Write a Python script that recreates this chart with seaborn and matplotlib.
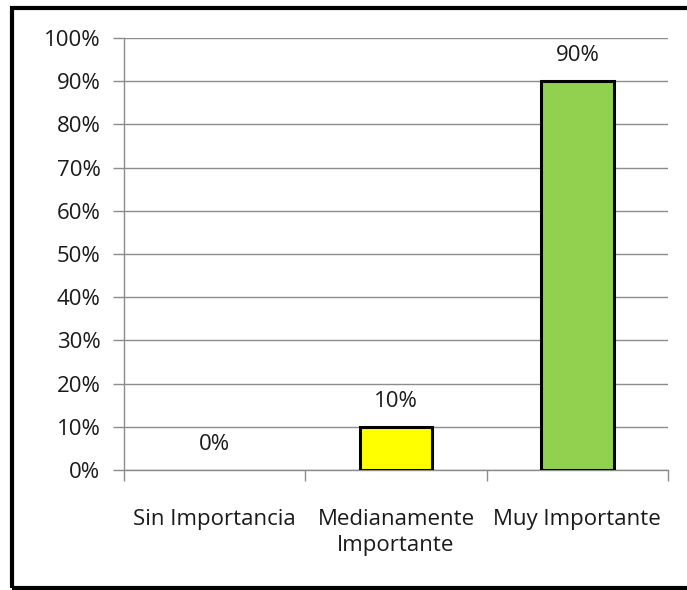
import matplotlib
matplotlib.use("Agg")
import matplotlib.pyplot as plt
import seaborn as sns
import pandas as pd
from matplotlib.patches import Rectangle

categories = ["Sin Importancia", "Medianamente\nImportante", "Muy Importante"]
values = [0, 10, 90]
colors = ["#FFFF00", "#FFFF00", "#92D050"]
tick_labels = ["0%", "10%", "20%", "30%", "40%", "50%", "60%", "70%", "80%", "90%", "100%"]

sns.set_theme(style="white")
plt.rcParams["font.family"] = ["Open Sans", "DejaVu Sans"]

df = pd.DataFrame({"categoria": categories, "valor": values})

W, H = 687, 590
FS = 16
TXT = "#1a1a1a"
fig = plt.figure(figsize=(W / 100, H / 100), dpi=100)
ax = fig.add_axes([124 / W, 1 - 470 / H, (668 - 124) / W, (470 - 38) / H])

sns.barplot(data=df, x="categoria", y="valor", hue="categoria", palette=colors,
            saturation=1, width=0.4, edgecolor="black", linewidth=2.2,
            legend=False, ax=ax, zorder=3)
# a zero-height bar leaves no outline
for patch, v in zip(ax.patches, values):
    if v == 0:
        patch.set_linewidth(0)

ax.set_ylim(0, 100)
ax.set_xlim(-0.5, 2.5)
ax.set_yticks(range(0, 101, 10))
ax.set_yticklabels(tick_labels, fontsize=FS, color=TXT)
ax.set_xticks([0, 1, 2])
ax.set_xticklabels(categories, fontsize=FS, color=TXT, linespacing=1.35)
ax.set_xlabel("")
ax.set_ylabel("")

ax.yaxis.grid(True, color="#8c8c8c", linewidth=1.0, zorder=0)
ax.set_axisbelow(True)
for s in ["top", "right"]:
    ax.spines[s].set_visible(False)
for s in ["left", "bottom"]:
    ax.spines[s].set_color("#8c8c8c")
    ax.spines[s].set_linewidth(1.0)

ax.tick_params(axis="y", which="both", left=True, length=8, width=1.0, color="#8c8c8c", pad=9)
ax.tick_params(axis="x", which="major", bottom=False, pad=22)
ax.set_xticks([-0.5, 0.5, 1.5, 2.5], minor=True)
ax.tick_params(axis="x", which="minor", bottom=True, length=8, width=1.0, color="#8c8c8c")

for i, v in enumerate(values):
    ax.annotate(f"{v}%", (i, v), xytext=(0, 18.5), textcoords="offset points",
                ha="center", va="center", fontsize=FS, color=TXT)

# chart frame
fig.patches.append(Rectangle((12 / W, 2 / H), (W + 10) / W, (H - 10) / H,
                             transform=fig.transFigure, fill=False,
                             edgecolor="black", linewidth=3))

fig.savefig("out.png", dpi=100)
